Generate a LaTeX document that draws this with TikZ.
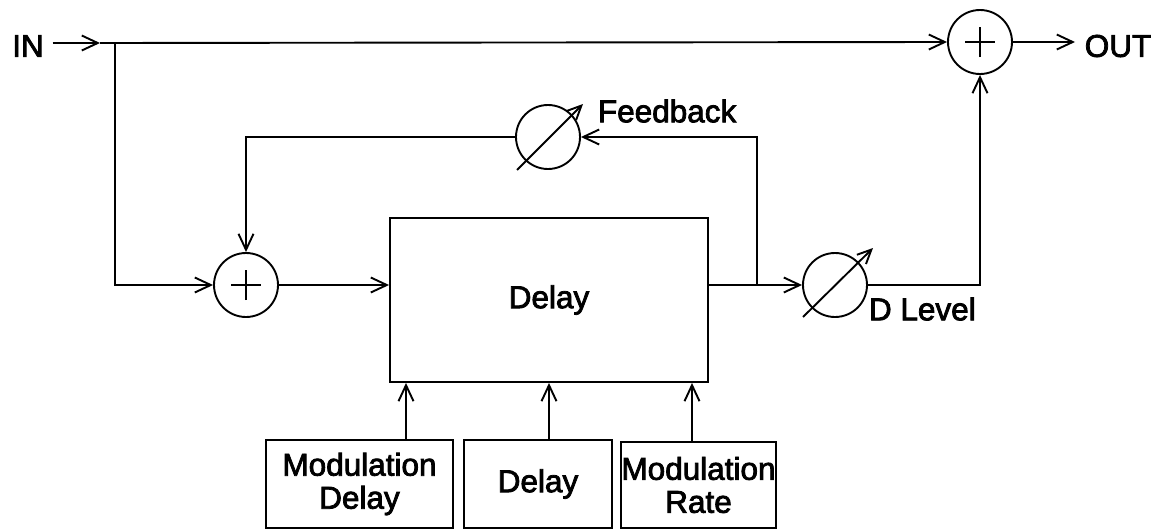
\documentclass[tikz,border=0pt]{standalone}
\usepackage{fontspec}
\setmainfont{Liberation Sans}[FakeBold=2.5]
\usetikzlibrary{arrows.meta}
\begin{document}
\begin{tikzpicture}[x=1pt,y=-1pt,
  line width=1.9pt,
  font=\fontsize{31.5}{33}\selectfont,
  arr/.style={-{Straight Barb[length=16pt,width=15pt,line width=1.9pt]}},
  sumnode/.style={circle,draw,minimum size=64pt,inner sep=0pt,
    path picture={
      \draw[line width=1.9pt] ([xshift=-15pt]path picture bounding box.center) -- ([xshift=15pt]path picture bounding box.center);
      \draw[line width=1.9pt] ([yshift=-15pt]path picture bounding box.center) -- ([yshift=15pt]path picture bounding box.center);}},
  gainnode/.style={circle,draw,minimum size=64pt,inner sep=0pt},
  blockbox/.style={draw,inner sep=0pt,align=center},
  lbl/.style={inner sep=0pt}]
\useasboundingbox (0,0) rectangle (1163,530);

% summing junctions and variable gains
\node[sumnode] (sumT) at (980,42) {};
\node[sumnode] (sumL) at (246,285) {};
\node[gainnode] (gF) at (548,137) {};
\node[gainnode] (gD) at (835,285) {};

% delay line and its controls
\node[blockbox,minimum width=318pt,minimum height=164pt] (dl) at (549,300) {Delay};
\node[blockbox,minimum width=187pt,minimum height=88pt] (b1) at (359.5,484) {Modulation\\Delay};
\node[blockbox,minimum width=148pt,minimum height=88pt] (b2) at (538,484) {Delay};
\node[blockbox,minimum width=155pt,minimum height=86pt] (b3) at (698.5,485) {Modulation\\Rate};

% labels
\node[lbl] (inL) at (28,46) {IN};
\node[lbl] (outL) at (1118,46) {OUT};
\node[lbl,anchor=west] (fbL) at (597,111) {Feedback};
\node[lbl,anchor=west] (dlvL) at (868,309) {D Level};

% helper points
\coordinate (inTip) at (100,43);
\coordinate (split) at (115,43);
\coordinate (tap) at (757,285);
\coordinate (outTip) at (1075,42);

% signal paths
\draw[arr] (inL.east) ++(8,-3) -- (inTip);
\draw[arr] (inTip) -- (sumT.west);
\draw[arr] (split) |- (sumL.west);
\draw[arr] (sumL.east) -- (sumL.east -| dl.west);
\draw[arr] (dl.east |- gD.west) -- (gD.west);
\draw[arr] (tap) |- (gF.east);
\draw[arr] (gF.west) -| (sumL.north);
\draw[arr] (gD.east) -| (sumT.south);
\draw[arr] (sumT.east) -- (outTip);

% control inputs
\draw[arr] ([xshift=46.5pt]b1.north) -- ([xshift=46.5pt]b1.north |- dl.south);
\draw[arr] ([xshift=11pt]b2.north) -- ([xshift=11pt]b2.north |- dl.south);
\draw[arr] ([xshift=-6.5pt]b3.north) -- ([xshift=-6.5pt]b3.north |- dl.south);

% variable-gain arrows
\draw[-{Straight Barb[length=14pt,width=13pt,line width=1.9pt]}] ([shift={(-31,33)}]gF.center) -- ([shift={(35,-33)}]gF.center);
\draw[-{Straight Barb[length=14pt,width=13pt,line width=1.9pt]}] ([shift={(-32,32)}]gD.center) -- ([shift={(38,-37)}]gD.center);
\end{tikzpicture}
\end{document}
